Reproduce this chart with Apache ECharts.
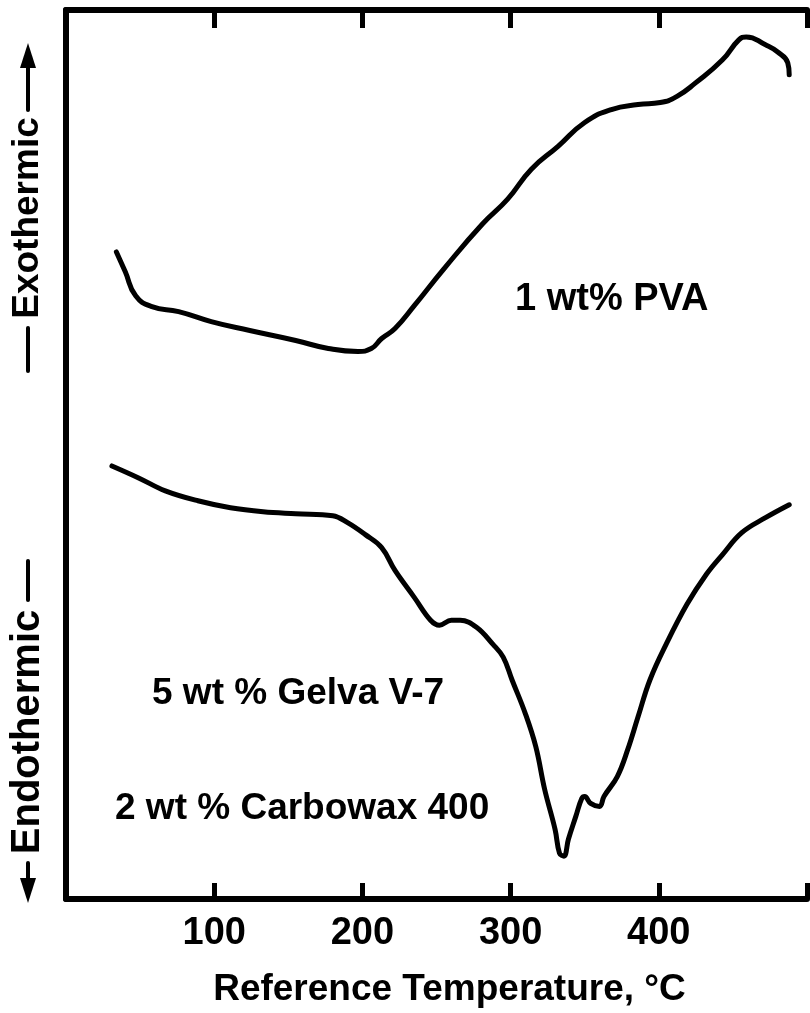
<!DOCTYPE html>
<html>
<head>
<meta charset="utf-8">
<script src="https://cdn.jsdelivr.net/npm/echarts@6/dist/echarts.min.js"></script>
<style>
  html, body { margin: 0; padding: 0; background: #fff; }
  #chart { width: 810px; height: 1013px; }
</style>
</head>
<body>
<div id="chart"></div>
<script>
// DTA traces: reference temperature (°C) against differential signal (arbitrary units)
const pvaTemperature = [34, 40, 47, 58, 76, 98, 124, 155, 177, 197, 206, 213, 222, 235, 255, 281, 298, 314, 332, 350, 368, 386, 401, 412, 425, 443, 454, 459, 472, 480, 487, 488];
const pvaSignal      = [650, 630, 606, 595, 590, 580, 571, 561, 553, 550, 553, 563, 573, 596, 633, 678, 703, 733, 756, 780, 793, 798, 800, 806, 820, 843, 863, 866, 858, 851, 840, 828];

const gelvaTemperature = [31, 49, 67, 89, 111, 133, 155, 180, 190, 202, 213, 222, 235, 246, 252, 260, 266, 277, 288, 295, 301, 310, 317, 323, 330, 333, 336, 339, 344, 348, 350, 354, 360, 363, 372, 379, 386, 394, 405, 419, 432, 443, 456, 472, 488];
const gelvaSignal      = [435, 423, 410, 400, 393, 389, 387, 385, 378, 366, 353, 330, 303, 280, 275, 280, 280, 273, 256, 243, 220, 186, 153, 110, 70, 46, 43, 60, 83, 101, 103, 96, 93, 103, 123, 150, 183, 220, 256, 296, 326, 346, 368, 383, 396];

const tickLabels = ['100', '200', '300', '400'];
const seriesLabels = ['1 wt% PVA', '5 wt % Gelva V-7', '2 wt % Carbowax 400'];
const axisTitle = 'Reference Temperature, °C';
const sideLabels = ['Exothermic', 'Endothermic'];

const FONT = '"Liberation Sans", Arial, sans-serif';
const zip = (xs, ys) => xs.map((x, i) => [x, ys[i]]);

const chart = echarts.init(document.getElementById('chart'), null, { renderer: 'canvas' });

const axisLine = { show: true, lineStyle: { color: '#000', width: 6, cap: 'round' } };
const lineStyle = { color: '#000', width: 5, cap: 'round', join: 'round' };

chart.setOption({
  backgroundColor: '#fff',
  animation: false,
  grid: { left: 66, top: 10, width: 753.5, height: 893, containLabel: false },
  xAxis: [
    {
      type: 'value', position: 'bottom', min: 0, max: 500, interval: 100,
      axisLine: axisLine,
      axisTick: { show: true, inside: true, length: 16, lineStyle: { color: '#000', width: 5 } },
      axisLabel: {
        color: '#000', fontFamily: FONT, fontWeight: 'bold', fontSize: 38, margin: 16,
        formatter: v => tickLabels.includes(String(v)) ? String(v) : ''
      },
      splitLine: { show: false },
      name: axisTitle, nameLocation: 'middle', nameGap: 72,
      nameTextStyle: { color: '#000', fontFamily: FONT, fontWeight: 'bold', fontSize: 37, padding: [0, 0, 0, 26] }
    },
    {
      type: 'value', position: 'top', min: 0, max: 500, interval: 100,
      axisLine: axisLine,
      axisTick: { show: true, inside: true, length: 18, lineStyle: { color: '#000', width: 5 } },
      axisLabel: { show: false },
      splitLine: { show: false }
    }
  ],
  yAxis: {
    type: 'value', min: 0, max: 893,
    axisLine: axisLine,
    axisTick: { show: false }, axisLabel: { show: false }, splitLine: { show: false }
  },
  series: [
    { type: 'line', xAxisIndex: 0, data: zip(pvaTemperature, pvaSignal), showSymbol: false, smooth: 0.5, lineStyle: lineStyle },
    { type: 'line', xAxisIndex: 0, data: zip(gelvaTemperature, gelvaSignal), showSymbol: false, smooth: 0.4, lineStyle: lineStyle }
  ],
  graphic: [
    { type: 'text', left: 515, top: 281, style: { text: seriesLabels[0], font: 'bold 38px ' + FONT, fill: '#000' } },
    { type: 'text', left: 152, top: 675, style: { text: seriesLabels[1], font: 'bold 37px ' + FONT, fill: '#000' } },
    { type: 'text', left: 115, top: 790, style: { text: seriesLabels[2], font: 'bold 37px ' + FONT, fill: '#000' } },
    // rotated side captions with their arrows
    { type: 'text', x: 28, y: 218, rotation: Math.PI / 2,
      style: { text: sideLabels[0], font: 'bold 37px ' + FONT, fill: '#000', align: 'center', verticalAlign: 'middle' } },
    { type: 'text', x: 28, y: 732, rotation: Math.PI / 2,
      style: { text: sideLabels[1], font: 'bold 40px ' + FONT, fill: '#000', align: 'center', verticalAlign: 'middle' } },
    { type: 'line', shape: { x1: 28, y1: 328, x2: 28, y2: 371 }, style: { stroke: '#000', lineWidth: 4, lineCap: 'round' } },
    { type: 'line', shape: { x1: 28, y1: 110, x2: 28, y2: 64 }, style: { stroke: '#000', lineWidth: 4, lineCap: 'round' } },
    { type: 'polygon', shape: { points: [[28, 43], [20, 68], [36, 68]] }, style: { fill: '#000' } },
    { type: 'line', shape: { x1: 28, y1: 561, x2: 28, y2: 600 }, style: { stroke: '#000', lineWidth: 4, lineCap: 'round' } },
    { type: 'line', shape: { x1: 28, y1: 863, x2: 28, y2: 882 }, style: { stroke: '#000', lineWidth: 4, lineCap: 'round' } },
    { type: 'polygon', shape: { points: [[28, 903], [20, 878], [36, 878]] }, style: { fill: '#000' } }
  ]
});
</script>
</body>
</html>
